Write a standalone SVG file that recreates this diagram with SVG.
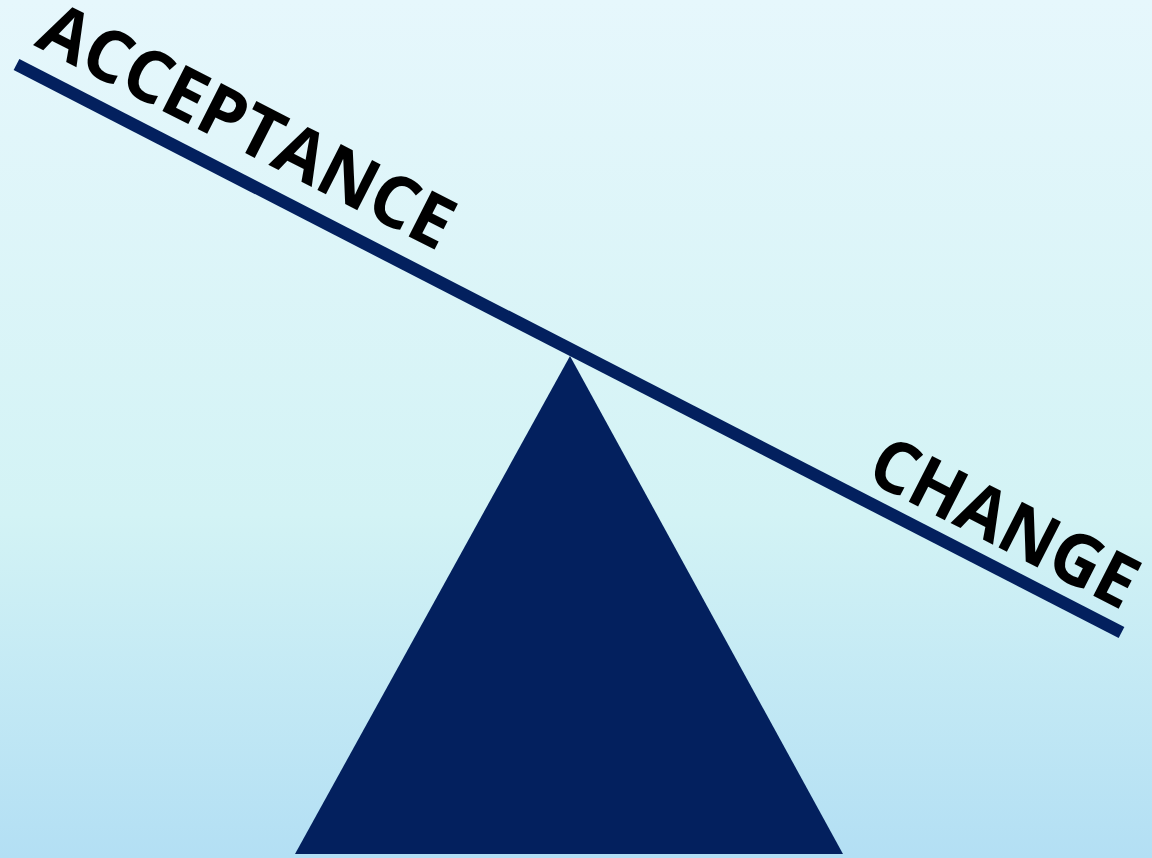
<svg xmlns="http://www.w3.org/2000/svg" width="1152" height="858" viewBox="0 0 1152 858">
  <defs>
    <linearGradient id="bg" x1="0" y1="0" x2="0" y2="1">
      <stop offset="0" stop-color="#e6f7fc"/>
      <stop offset="0.6" stop-color="#d3f3f5"/>
      <stop offset="1" stop-color="#b3dff4"/>
    </linearGradient>
    <style>
      .lbl { font-family: "Open Sans", "Noto Sans", "Liberation Sans", sans-serif; font-weight: bold; font-size: 72px; fill: #000000; }
      .navy { fill: #03205e; }
    </style>
  </defs>
  <rect x="0" y="0" width="1152" height="858" fill="url(#bg)"/>
  <g id="fulcrum">
    <polygon class="navy" points="570,356 295,854 843,854"/>
  </g>
  <g id="connectors">
    <line x1="16.5" y1="64.5" x2="1121.5" y2="632.5" stroke="#03205e" stroke-width="12.5"/>
  </g>
  <g id="acceptance">
    <text class="lbl" transform="translate(33,45) rotate(27)" x="0" y="0" textLength="455" lengthAdjust="spacingAndGlyphs">ACCEPTANCE</text>
  </g>
  <g id="change">
    <text class="lbl" transform="translate(864,479) rotate(27)" x="0" y="0" textLength="290" lengthAdjust="spacingAndGlyphs">CHANGE</text>
  </g>
</svg>
